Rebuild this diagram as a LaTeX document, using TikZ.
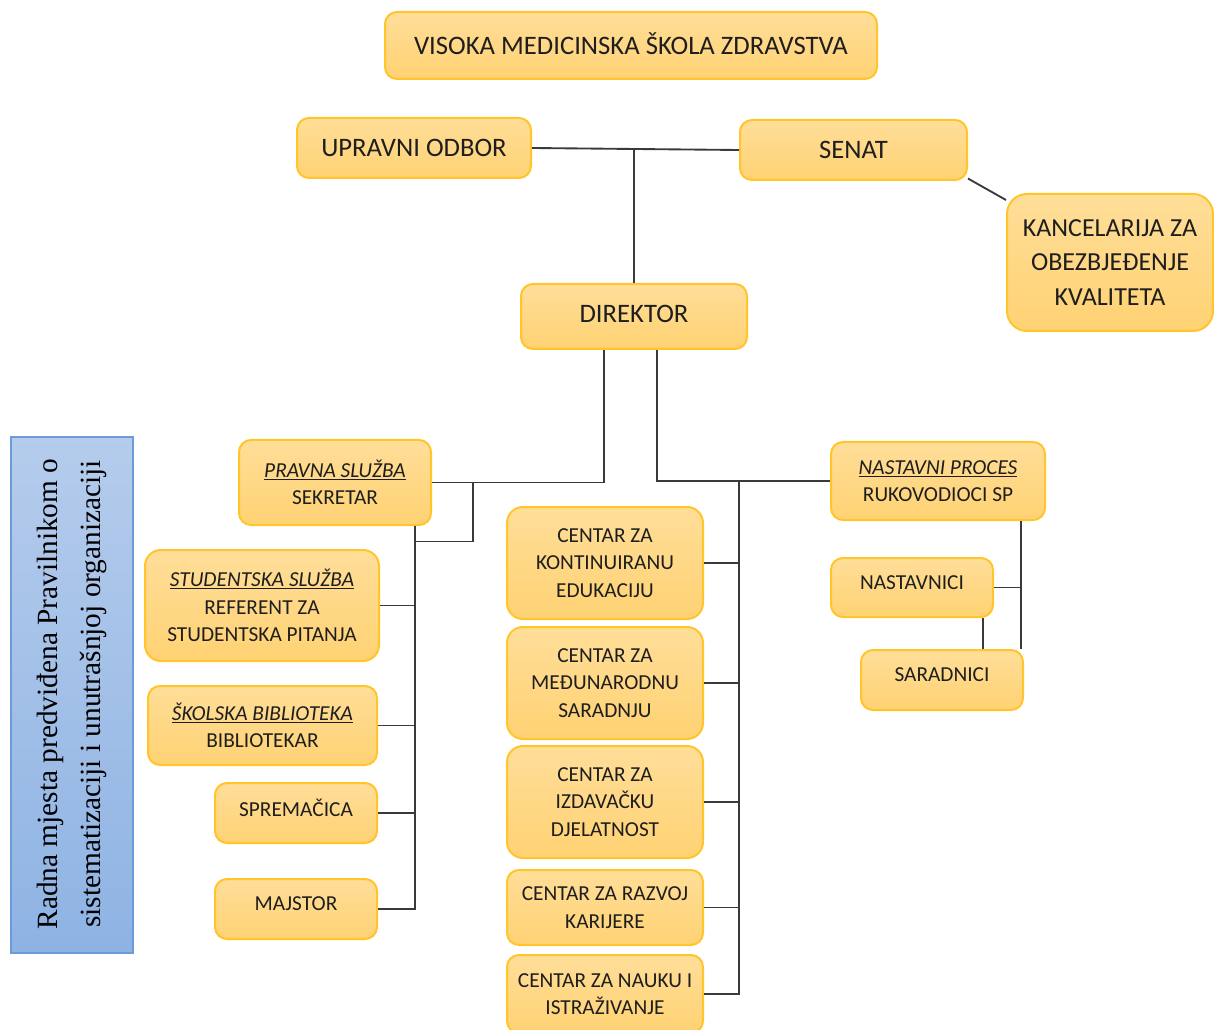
\documentclass[tikz,border=0pt]{standalone}
\usepackage{fontspec}
\setmainfont{Carlito}
\newfontfamily\tnr{Liberation Serif}
\definecolor{boxtop}{HTML}{FFDE99}
\definecolor{boxbot}{HTML}{FFD273}
\definecolor{boxline}{HTML}{FFC52B}
\definecolor{txt}{HTML}{1E1E1E}
\definecolor{bluetop}{HTML}{B5CCEC}
\definecolor{bluebot}{HTML}{8EB3E3}
\definecolor{blueline}{HTML}{6D9BD8}
\definecolor{conn}{HTML}{3A3A3A}
\newcommand\bigtxt{\fontsize{20}{26}\selectfont}
\newcommand\midtxt{\fontsize{19.5}{26}\selectfont}
\newcommand\smltxt{\fontsize{16}{20.6}\selectfont}
\newcommand\ult[1]{\underline{\textit{#1}}}
\newcommand\up[1]{\raisebox{4pt}[\height][\depth]{#1}}
\tikzset{
  orgbox/.style={draw=boxline, line width=1.5pt, rounded corners=9pt,
    top color=boxtop, bottom color=boxbot, text=txt, align=center, inner sep=0pt},
  link/.style={draw=conn, line width=1.4pt},
}
\begin{document}
\begin{tikzpicture}[x=0.75pt, y=-0.75pt]
\useasboundingbox (0,0) rectangle (1214,1030);
% blue side box
\node[draw=blueline, line width=1.2pt, top color=bluetop, bottom color=bluebot,
  minimum width=91.5pt, minimum height=387pt, inner sep=0pt] (side) at (72,695) {};
\node[rotate=90, align=center, text=black, font=\tnr\fontsize{22}{32}\selectfont] (sidetxt) at (72,694)
  {Radna mjesta predviđena Pravilnikom o\\sistematizaciji i unutrašnjoj organizaciji};
% top levels
\node[orgbox, minimum width=369pt, minimum height=50.25pt, font=\bigtxt] (top) at (631,45.5) {\raisebox{1.5pt}[\height][\depth]{VISOKA MEDICINSKA ŠKOLA ZDRAVSTVA}};
\node[orgbox, minimum width=175.5pt, minimum height=45pt, font=\bigtxt] (upr) at (414,148) {UPRAVNI ODBOR};
\node[orgbox, minimum width=170.25pt, minimum height=45pt, font=\bigtxt] (senat) at (853.5,150) {SENAT};
\node[orgbox, rounded corners=15pt, minimum width=154.5pt, minimum height=102.75pt, font=\midtxt] (kanc) at (1110,262.5) {KANCELARIJA ZA\\OBEZBJEĐENJE\\KVALITETA};
\node[orgbox, minimum width=169.5pt, minimum height=48.75pt, font=\bigtxt] (dir) at (634,316.5) {\raisebox{2pt}[\height][\depth]{DIREKTOR}};
% left branch
\node[orgbox, minimum width=144pt, minimum height=63.75pt, font=\smltxt] (pravna) at (335,482.5) {\ult{PRAVNA SLUŽBA}\\SEKRETAR};
\node[orgbox, rounded corners=12pt, minimum width=175.5pt, minimum height=83.25pt, font=\smltxt] (stud) at (262,605.5) {\ult{STUDENTSKA SLUŽBA}\\REFERENT ZA\\STUDENTSKA PITANJA};
\node[orgbox, minimum width=171.75pt, minimum height=59.25pt, font=\smltxt] (skol) at (262.5,725.5) {\ult{ŠKOLSKA BIBLIOTEKA}\\BIBLIOTEKAR};
\node[orgbox, minimum width=121.5pt, minimum height=45pt, font=\smltxt] (sprem) at (296,813) {\up{SPREMAČICA}};
\node[orgbox, minimum width=121.5pt, minimum height=45pt, font=\smltxt] (majs) at (296,909) {\up{MAJSTOR}};
% centres
\node[orgbox, rounded corners=12pt, minimum width=147pt, minimum height=84pt, font=\smltxt] (c1) at (605,563) {CENTAR ZA\\KONTINUIRANU\\EDUKACIJU};
\node[orgbox, rounded corners=12pt, minimum width=147pt, minimum height=84pt, font=\smltxt] (c2) at (605,683) {CENTAR ZA\\MEĐUNARODNU\\SARADNJU};
\node[orgbox, rounded corners=12pt, minimum width=147pt, minimum height=84pt, font=\smltxt] (c3) at (605,802) {CENTAR ZA\\IZDAVAČKU\\DJELATNOST};
\node[orgbox, minimum width=147pt, minimum height=56.25pt, font=\smltxt] (c4) at (605,907.5) {CENTAR ZA RAZVOJ\\KARIJERE};
\node[orgbox, minimum width=147pt, minimum height=58.5pt, font=\smltxt] (c5) at (605,994) {CENTAR ZA NAUKU I\\ISTRAŽIVANJE};
% right branch
\node[orgbox, minimum width=160.5pt, minimum height=58.5pt, font=\smltxt] (nast) at (938,481) {\ult{NASTAVNI PROCES}\\RUKOVODIOCI SP};
\node[orgbox, minimum width=121.5pt, minimum height=44.25pt, font=\smltxt] (nastv) at (912,587.5) {\up{NASTAVNICI}};
\node[orgbox, minimum width=121.5pt, minimum height=45pt, font=\smltxt] (sar) at (942,680) {\up{SARADNICI}};
% connectors
\draw[link] (upr.east) -- (senat.west);
\draw[link] (dir.north) -- (dir.north |- upr.east);
\draw[link] (senat.-14) -- (kanc.149);
% to left branch
\draw[link] (dir.south) ++(-30,0) |- (pravna.east);
\draw[link] (pravna.east) ++(41,0) -- ++(0,59) -- ++(-57,0);
\coordinate (lsp) at ([xshift=60pt]pravna.south);
\draw[link] (lsp) |- (majs.east);
\draw[link] (stud.east) -- (stud.east -| lsp);
\draw[link] (skol.east) -- (skol.east -| lsp);
\draw[link] (sprem.east) -- (sprem.east -| lsp);
% to right branch
\draw[link] (dir.south) ++(23,0) |- (nast.west);
\coordinate (csp) at (739,482);
\draw[link] (csp) |- (c5.east);
\draw[link] (c1.east) -- (c1.east -| csp);
\draw[link] (c2.east) -- (c2.east -| csp);
\draw[link] (c3.east) -- (c3.east -| csp);
\draw[link] (c4.east) -- (c4.east -| csp);
\coordinate (nsp) at ([xshift=62.25pt]nast.south);
\draw[link] (nsp) -- (nsp |- sar.north);
\draw[link] (nastv.east) -- (nastv.east -| nsp);
\draw[link] ([xshift=53.25pt]nastv.south) -- ([xshift=53.25pt]nastv.south |- sar.north);
\end{tikzpicture}
\end{document}
